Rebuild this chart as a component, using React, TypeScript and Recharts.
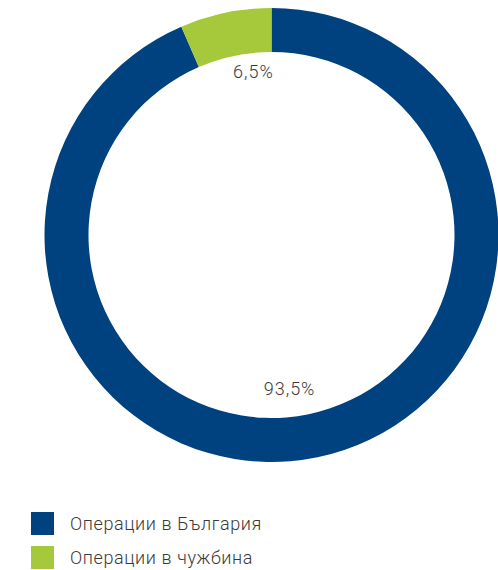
import React from "react";
import { PieChart, Pie, Cell } from "recharts";

const categories = ["Операции в България", "Операции в чужбина"];
const shares = [93.5, 6.5];
const labels = ["93,5%", "6,5%"];
const colors = ["#00417f", "#a5c93a"];

const data = categories.map((name, i) => ({ name, value: shares[i], label: labels[i] }));

const RAD = Math.PI / 180;
const FONT = "Roboto, 'Open Sans', sans-serif";

const renderLabel = (props: any) => {
  const { cx, cy, midAngle, innerRadius, index } = props;
  const r = innerRadius - 21;
  const x = cx + r * Math.cos(-midAngle * RAD) * 0.55;
  const y = cy + r * Math.sin(-midAngle * RAD) - 5;
  return (
    <text
      x={x}
      y={y}
      textAnchor="middle"
      dominantBaseline="central"
      fill="#3a3a3a"
      fontSize={18}
      fontWeight={300}
      letterSpacing={1}
      fontFamily={FONT}
    >
      {data[index].label}
    </text>
  );
};

const LegendContent = () => (
  <div
    style={{
      position: "absolute",
      top: 506,
      left: 31,
      fontFamily: FONT,
    }}
  >
    {data.map((d, i) => (
      <div key={d.name} style={{ display: "flex", alignItems: "center", height: 34 }}>
        <div style={{ width: 23, height: 23, background: colors[i], marginRight: 16, flexShrink: 0 }} />
        <span
          style={{
            fontSize: 18,
            fontWeight: 300,
            color: "#3a3a3a",
            letterSpacing: 0.6,
            whiteSpace: "nowrap",
          }}
        >
          {d.name}
        </span>
      </div>
    ))}
  </div>
);

export default function App() {
  return (
    <div style={{ position: "relative", width: 498, height: 570, overflow: "hidden" }}>
      <style>{`body{margin:0;}`}</style>
      <PieChart width={498} height={500} margin={{ top: 0, right: 0, bottom: 0, left: 0 }}>
        <Pie
          data={data}
          dataKey="value"
          cx={271.5}
          cy={235}
          outerRadius={227}
          innerRadius={183}
          startAngle={90}
          endAngle={-270}
          stroke="none"
          label={renderLabel}
          labelLine={false}
          isAnimationActive={false}
        >
          {data.map((d, i) => (
            <Cell key={d.name} fill={colors[i]} />
          ))}
        </Pie>
      </PieChart>
      <LegendContent />
    </div>
  );
}
